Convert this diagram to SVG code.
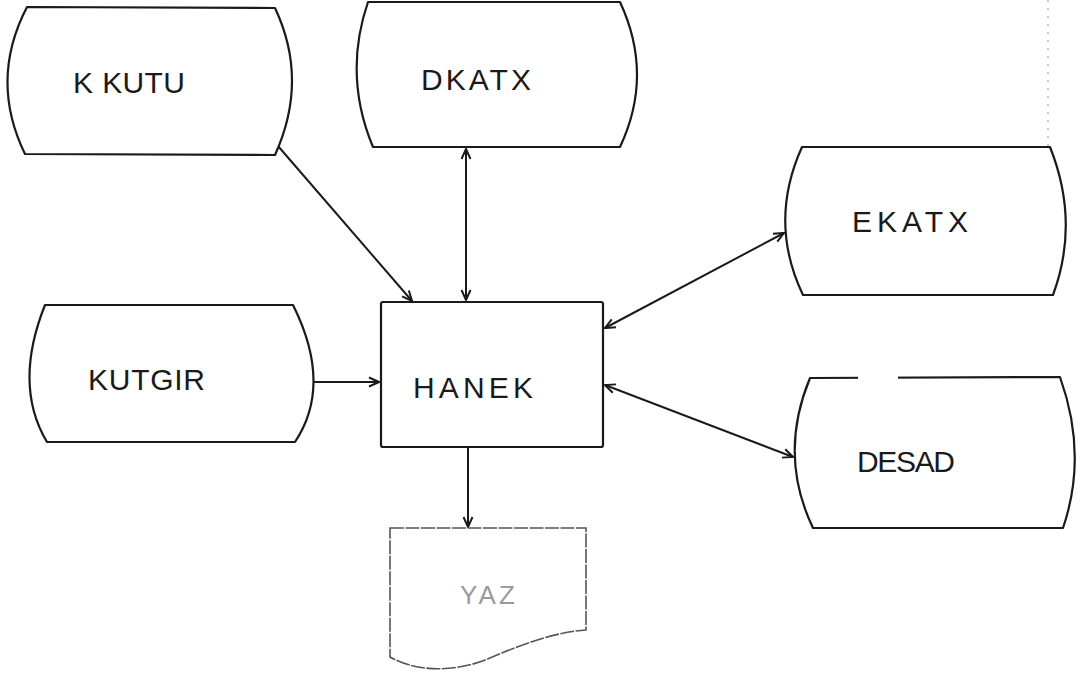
<svg xmlns="http://www.w3.org/2000/svg" width="1083" height="674" viewBox="0 0 1083 674">
  <style>
    .shape { fill: #ffffff; stroke: #1a1a1a; stroke-width: 2.2; stroke-linejoin: round; }
    .doc { fill: #ffffff; stroke: #555555; stroke-width: 1.6; stroke-dasharray: 14 1.5; }
    .label { font-family: "Liberation Sans", Arial, sans-serif; font-size: 30px; fill: #1a1a1a; font-weight: normal; }
    .faint { fill: #9a9a9a; font-size: 26px; }
    .flow { fill: none; stroke: #1a1a1a; stroke-width: 2; }
    .scan { fill: none; stroke: #9a9a9a; stroke-width: 1; stroke-dasharray: 2 6; }
  </style>
  <defs>
    <marker id="arrow" viewBox="0 0 12 12" refX="11" refY="6" markerWidth="12" markerHeight="12" markerUnits="userSpaceOnUse" orient="auto-start-reverse">
      <path d="M1,1.5 L11,6 L1,10.5" fill="none" stroke="#1a1a1a" stroke-width="2"/>
    </marker>
  </defs>

  <rect width="1083" height="674" fill="#ffffff"/>

  <!-- faint ruling line near the right margin -->
  <path class="scan" d="M1048,0 L1048,270"/>

  <!-- connectors -->
  <g id="connectors">
    <path class="flow" d="M278,146 L412,301" marker-end="url(#arrow)"/>
    <path class="flow" d="M466,149 L466,300" marker-start="url(#arrow)" marker-end="url(#arrow)"/>
    <path class="flow" d="M313,382 L379,382" marker-end="url(#arrow)"/>
    <path class="flow" d="M784,233 L605,328" marker-start="url(#arrow)" marker-end="url(#arrow)"/>
    <path class="flow" d="M605,385 L793,457" marker-start="url(#arrow)" marker-end="url(#arrow)"/>
    <path class="flow" d="M468,448 L468,527" marker-end="url(#arrow)"/>
  </g>

  <!-- stored data: KKUTU -->
  <g id="kkutu">
    <path class="shape" d="M27,7 L275,8 Q309,80 275,155 L25,154 Q-11,80 27,7 Z"/>
    <text class="label" x="73" y="93" textLength="112" lengthAdjust="spacing">K KUTU</text>
  </g>

  <!-- stored data: DKATX -->
  <g id="dkatx">
    <path class="shape" d="M368,2 L620,2 Q654,75 620,147 L373,147 Q343,75 368,2 Z"/>
    <text class="label" x="421" y="90" textLength="110" lengthAdjust="spacing">DKATX</text>
  </g>

  <!-- stored data: EKATX -->
  <g id="ekatx">
    <path class="shape" d="M802,147 L1050,147 Q1080,222 1053,295 L803,295 Q768,222 802,147 Z"/>
    <text class="label" x="852" y="232" textLength="116" lengthAdjust="spacing">EKATX</text>
  </g>

  <!-- stored data: KUTGIR -->
  <g id="kutgir">
    <path class="shape" d="M45,305 L293,305 Q333,385 295,442 L47,442 Q13,385 45,305 Z"/>
    <text class="label" x="88" y="390" textLength="117" lengthAdjust="spacing">KUTGIR</text>
  </g>

  <!-- process: HANEK -->
  <g id="hanek">
    <rect class="shape" x="381" y="302" width="222" height="145" rx="2"/>
    <text class="label" x="413" y="398" textLength="120" lengthAdjust="spacing">HANEK</text>
  </g>

  <!-- stored data: DESAD -->
  <g id="desad">
    <path class="shape" d="M810,378 L1060,377 Q1088,455 1063,528 L813,528 Q778,455 810,378 Z"/>
    <path d="M858,378 L898,378" stroke="#ffffff" stroke-width="4"/>
    <text class="label" x="857" y="472" textLength="98" lengthAdjust="spacing">DESAD</text>
  </g>

  <!-- document: YAZ -->
  <g id="yaz">
    <path class="doc" d="M390,528 L586,528 L586,630 C555,632 520,645 490,658 C460,671 420,674 390,657 Z"/>
    <text class="label faint" x="460" y="604" textLength="55" lengthAdjust="spacing">YAZ</text>
  </g>
</svg>
